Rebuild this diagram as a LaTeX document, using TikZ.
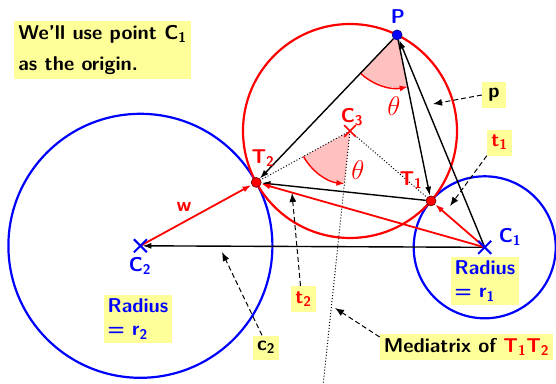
\RequirePackage{fix-cm}
\documentclass[tikz,border=0pt]{standalone}
\usepackage{fontspec}
\usetikzlibrary{arrows.meta,angles,shapes.misc}
\definecolor{boxyellow}{RGB}{255,255,153}
\definecolor{wedgepink}{RGB}{255,192,192}
\begin{document}
\begin{tikzpicture}[x=1pt,y=-1pt,
  font=\sffamily\bfseries\fontsize{20}{23}\selectfont,
  bcirc/.style={draw=blue,line width=2.2pt},
  rcirc/.style={draw=red,line width=2.2pt},
  bvec/.style={draw=black,line width=1.4pt,-{Latex[length=9pt,width=6pt]}},
  rvec/.style={draw=red,line width=1.8pt,-{Latex[length=9pt,width=6pt]}},
  dotl/.style={draw=black,dotted,line width=1pt},
  ptr/.style={draw=black,dash pattern=on 5pt off 3pt,line width=1pt,-{Latex[length=9pt,width=7pt]}},
  note/.style={fill=boxyellow,inner sep=4pt,align=left},
  tag/.style={note,minimum height=26pt,minimum width=25pt},
  crossmk/.style={cross out,draw,line width=2pt,minimum size=11pt,inner sep=0pt},
  dotmk/.style={circle,draw=black!60!red,line width=0.6pt,inner sep=0pt,minimum size=10pt},
  ang/.style={draw=red,fill=wedgepink,line width=1.4pt,angle radius=53pt,-{Latex[length=8pt,width=6pt]}},
]
\useasboundingbox (0,0) rectangle (556,383);
% key points
\coordinate (C3) at (350,131);
\coordinate (pP) at (397.1,34.9);
\coordinate (pT2) at (256.2,182.4);
\coordinate (pT1) at (431.0,200.9);
\coordinate (C2) at (140.4,245.8);
\coordinate (C1) at (484.7,247.3);
\coordinate (M) at (323.3,383);
% circles
\draw[bcirc] (C2) circle[radius=132pt];
\draw[bcirc] (C1) circle[radius=71pt];
\draw[rcirc] (C3) circle[radius=107pt];
% angle wedges
\pic[ang] {angle=pT2--pP--pT1};
\pic[ang] {angle=pT2--C3--M};
% dotted lines
\draw[dotl] (C3) -- (pT2);
\draw[dotl] (C3) -- (pT1);
\draw[dotl] (C3) -- (M);
% points
\node[dotmk,fill=red] (T2) at (pT2) {};
\node[dotmk,fill=red] (T1) at (pT1) {};
\node[dotmk,fill=blue,draw=blue!50!black] (P) at (pP) {};
% black vectors
\draw[bvec] (P) -- (T2);
\draw[bvec] (P) -- (T1);
\draw[bvec] (C1) -- (P);
\draw[bvec] (T1) -- (T2);
\draw[bvec,shorten >=2pt] (C1) -- (C2);
% red vectors
\draw[rvec] (C2) -- (T2);
\draw[rvec] (C1) -- (T2);
\draw[rvec] (C1) -- (T1);
% crosses
\node[crossmk,draw=blue] (C1x) at (C1) {};
\node[crossmk,draw=blue] (C2x) at (C2) {};
\node[crossmk,draw=red,minimum size=10pt,line width=1.6pt] (C3x) at (C3) {};
% labels
\node[blue] (Plbl) at (398,17) {P};
\node[red] (C3lbl) at (352,117) {C\textsubscript{3}};
\node[red] (T2lbl) at (263,158) {T\textsubscript{2}};
\node[red] (T1lbl) at (411,180) {T\textsubscript{1}};
\node[blue] (C1lbl) at (510,237) {C\textsubscript{1}};
\node[blue] (C2lbl) at (140,266) {C\textsubscript{2}};
\node[red] (wlbl) at (184,207) {w};
\node[red,font=\fontsize{27}{30}\selectfont] (th1) at (394,106) {$\theta$};
\node[red,font=\fontsize{27}{30}\selectfont] (th2) at (358,170) {$\theta$};
% notes
\node[note,font=\sffamily\bfseries\fontsize{20}{31}\selectfont] (orig) at (102.5,50) {We'll use point C\textsubscript{1}\\as the origin.};
\node[note,text=blue] (r1box) at (485,281) {Radius\\= r\textsubscript{1}};
\node[note,text=blue] (r2box) at (138,319) {Radius\\= r\textsubscript{2}};
\node[tag,minimum width=24pt] (pbox) at (494,95) {p};
\node[tag,text=red] (t1box) at (499.5,142.5) {t\textsubscript{1}};
\node[tag,text=red] (t2box) at (303.5,299) {t\textsubscript{2}};
\node[tag,minimum height=24pt] (c2box) at (266,347.5) {c\textsubscript{2}};
\node[note] (med) at (466.5,347) {Mediatrix of \textcolor{red}{T\textsubscript{1}T\textsubscript{2}}};
% pointer tips
\coordinate (ptip) at (433,104);
\coordinate (t1tip) at (450,206);
\coordinate (t2tip) at (292,193);
\coordinate (c2tip) at (222,252);
\coordinate (medtip) at (335,308);
\draw[ptr] (pbox.west) -- (ptip);
\draw[ptr] (t1box.south west) -- (t1tip);
\draw[ptr] ([xshift=-3pt]t2box.north) -- (t2tip);
\draw[ptr] ([xshift=-4pt]c2box.north) -- (c2tip);
\draw[ptr] ([yshift=10pt]med.west) -- (medtip);
\end{tikzpicture}
\end{document}
